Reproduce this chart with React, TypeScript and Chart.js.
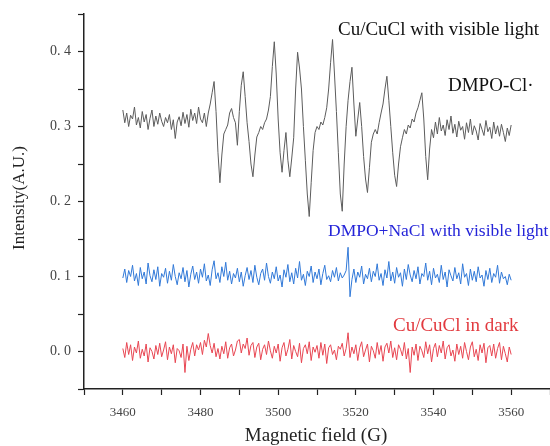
import { useEffect, useRef } from "react";
import { Chart, registerables } from "chart.js";

Chart.register(...registerables);

// Field sampling (G)
const fieldStart = 3460;
const fieldStep = 0.5;

// Cu/CuCl with visible light (DMPO-Cl· signal)
const grayIntensity = [
  0.322, 0.305, 0.318, 0.300, 0.315, 0.310, 0.326, 0.302, 0.312, 0.298,
  0.320, 0.306, 0.316, 0.296, 0.311, 0.322, 0.300, 0.314, 0.303, 0.318,
  0.307, 0.300, 0.312, 0.305, 0.316, 0.296, 0.309, 0.284, 0.306, 0.313,
  0.301, 0.319, 0.304, 0.316, 0.299, 0.323, 0.308, 0.318, 0.304, 0.326,
  0.310, 0.305, 0.318,
  0.300, 0.318, 0.330, 0.345, 0.360, 0.320, 0.265, 0.225, 0.262, 0.290,
  0.296, 0.302, 0.318, 0.324, 0.312, 0.305, 0.275, 0.320, 0.355, 0.373,
  0.340, 0.305, 0.280, 0.250, 0.233, 0.262, 0.286, 0.292, 0.300, 0.296,
  0.305, 0.310, 0.322, 0.340, 0.380, 0.413, 0.370, 0.310, 0.265, 0.239,
  0.268, 0.292, 0.255, 0.233, 0.258, 0.285, 0.350, 0.399, 0.378, 0.350,
  0.300, 0.255, 0.210, 0.180, 0.225, 0.268, 0.292, 0.300, 0.296, 0.306,
  0.302, 0.312, 0.325, 0.350, 0.385, 0.416, 0.370, 0.320, 0.265, 0.210,
  0.187, 0.250, 0.300, 0.335, 0.360, 0.379, 0.330, 0.287, 0.310, 0.332,
  0.300, 0.260, 0.230, 0.212, 0.245, 0.279, 0.290, 0.296, 0.290, 0.305,
  0.318, 0.330, 0.350, 0.367, 0.335, 0.300, 0.265, 0.235, 0.220, 0.250,
  0.273, 0.285, 0.296, 0.290, 0.302, 0.298, 0.310, 0.306, 0.318, 0.325,
  0.335, 0.345, 0.310, 0.260, 0.229, 0.270, 0.296,
  0.285, 0.306, 0.290, 0.312, 0.294, 0.302, 0.288, 0.309, 0.296, 0.314,
  0.291, 0.303, 0.286, 0.307, 0.295, 0.300, 0.283, 0.305, 0.292, 0.310,
  0.289, 0.301, 0.294, 0.282, 0.304, 0.296, 0.288, 0.308, 0.293, 0.299,
  0.284, 0.306, 0.290, 0.301, 0.287, 0.303, 0.292, 0.280, 0.298, 0.288,
  0.302,
];

// DMPO+NaCl with visible light
const blueIntensity = [
  0.098, 0.110, 0.092, 0.108, 0.100, 0.115, 0.094, 0.104, 0.088, 0.112,
  0.097, 0.106, 0.090, 0.118, 0.101, 0.093, 0.109, 0.096, 0.113, 0.087,
  0.104, 0.099, 0.111, 0.091, 0.107, 0.095, 0.116, 0.100, 0.089, 0.105,
  0.097, 0.112, 0.093, 0.108, 0.086, 0.103, 0.114, 0.096, 0.106, 0.091,
  0.110, 0.099, 0.117, 0.094, 0.102, 0.088, 0.109, 0.121, 0.097, 0.105,
  0.092, 0.113, 0.100, 0.119, 0.095, 0.107, 0.090, 0.104, 0.098, 0.111,
  0.093, 0.106, 0.087, 0.101, 0.112, 0.096, 0.108, 0.092, 0.115, 0.099,
  0.089, 0.104, 0.110, 0.095, 0.118, 0.100, 0.091, 0.106, 0.097, 0.113,
  0.094, 0.102, 0.086, 0.109, 0.099, 0.116, 0.093, 0.105, 0.090, 0.111,
  0.098, 0.120, 0.095, 0.103, 0.088, 0.107, 0.100, 0.114, 0.092, 0.106,
  0.097, 0.110, 0.089, 0.104, 0.115, 0.096, 0.101, 0.093, 0.108, 0.099,
  0.112, 0.094, 0.105, 0.098, 0.102, 0.108, 0.139, 0.073, 0.096, 0.110,
  0.092, 0.106, 0.099, 0.114, 0.090, 0.103, 0.097, 0.111, 0.093, 0.107,
  0.100, 0.117, 0.095, 0.104, 0.088, 0.109, 0.098, 0.120, 0.094, 0.106,
  0.091, 0.112, 0.099, 0.105, 0.087, 0.110, 0.096, 0.116, 0.102, 0.093,
  0.108, 0.097, 0.113, 0.090, 0.104, 0.100, 0.118, 0.095, 0.107, 0.089,
  0.111, 0.098, 0.103, 0.092, 0.115, 0.096, 0.106, 0.086, 0.109, 0.101,
  0.094, 0.112, 0.097, 0.105, 0.090, 0.117, 0.099, 0.104, 0.088, 0.110,
  0.095, 0.107, 0.093, 0.113, 0.098, 0.102, 0.087, 0.108, 0.096, 0.111,
  0.092, 0.104, 0.099, 0.115, 0.091, 0.106, 0.097, 0.100, 0.089, 0.103,
  0.095,
];

// Cu/CuCl in dark
const redIntensity = [
  0.004, -0.008, 0.012, -0.004, 0.009, -0.012, 0.006, -0.002, 0.014, -0.009,
  0.003, -0.006, 0.010, -0.014, 0.005, 0.000, -0.010, 0.008, -0.004, 0.011,
  -0.007, 0.002, 0.013, -0.011, 0.006, -0.003, 0.009, -0.015, 0.004, 0.001,
  -0.008, 0.010, -0.028, 0.007, -0.012, 0.003, 0.012, -0.006, 0.009, 0.002,
  0.012, -0.004, 0.015, 0.006, 0.024, 0.008, -0.002, 0.011, -0.007, 0.004,
  -0.010, 0.007, -0.003, 0.013, -0.009, 0.005, 0.010, -0.006, 0.002, 0.014,
  0.016, -0.002, 0.010, 0.004, 0.018, -0.005, 0.008, 0.012, -0.008, 0.006,
  0.011, -0.011, 0.003, 0.009, -0.004, 0.014, 0.001, -0.009, 0.007, -0.002,
  0.010, -0.013, 0.005, 0.012, -0.006, 0.003, 0.016, -0.010, 0.008, 0.000,
  -0.007, 0.011, -0.015, 0.004, 0.009, -0.003, 0.013, -0.012, 0.006, -0.001,
  0.008, -0.009, 0.012, -0.005, 0.010, -0.016, 0.005, 0.009, -0.004, 0.002,
  -0.011, 0.007, 0.003, 0.011, -0.006, 0.004, 0.025, -0.008, 0.006, -0.003,
  0.009, -0.012, 0.005, 0.013, -0.007, 0.002, 0.010, -0.014, 0.007, 0.001,
  -0.009, 0.012, -0.004, 0.008, -0.013, 0.006, 0.011, -0.002, 0.014, -0.008,
  0.005, -0.011, 0.009, 0.003, -0.006, 0.012, -0.010, 0.004, -0.028, 0.006,
  -0.005, 0.010, -0.012, 0.007, 0.001, -0.008, 0.013, -0.003, 0.009, -0.014,
  0.004, 0.011, -0.007, 0.008, -0.002, 0.014, -0.010, 0.005, 0.009, -0.006,
  0.002, -0.013, 0.010, -0.004, 0.007, -0.009, 0.012, 0.000, -0.011, 0.006,
  0.013, -0.007, 0.003, -0.012, 0.009, -0.002, 0.011, -0.015, 0.005, 0.008,
  -0.006, 0.010, -0.009, 0.004, 0.012, -0.011, 0.007, -0.003, -0.014, 0.006,
  -0.004,
];

const xTickLabels = [3460, 3480, 3500, 3520, 3540, 3560];
const yTickValues = [0.0, 0.1, 0.2, 0.3, 0.4];
const yTickLabels = ["0. 0", "0. 1", "0. 2", "0. 3", "0. 4"];

const seriesNames = [
  "Cu/CuCl with visible light",
  "DMPO+NaCl with visible light",
  "Cu/CuCl in dark",
];
const speciesName = "DMPO-Cl\u00b7";
const xTitle = "Magnetic field (G)";
const yTitle = "Intensity(A.U.)";

const toPoints = (ys: number[]) =>
  ys.map((y, i) => ({ x: fieldStart + i * fieldStep, y }));

const SERIF = "'Liberation Serif', 'Times New Roman', serif";

const textPlugin = {
  id: "textPlugin",
  afterDraw(chart: any) {
    const ctx = chart.ctx as CanvasRenderingContext2D;
    ctx.save();
    ctx.textBaseline = "alphabetic";
    ctx.textAlign = "left";
    ctx.font = `19px ${SERIF}`;
    ctx.fillStyle = "#111111";
    ctx.fillText(seriesNames[0], 338, 35);
    ctx.fillText(speciesName, 448, 91);
    ctx.fillStyle = "#2424d8";
    ctx.font = `17.5px ${SERIF}`;
    ctx.fillText(seriesNames[1], 328, 236);
    ctx.fillStyle = "#e23a3f";
    ctx.font = `19px ${SERIF}`;
    ctx.fillText(seriesNames[2], 393, 331);

    // axis titles
    ctx.fillStyle = "#222222";
    ctx.textAlign = "center";
    ctx.textBaseline = "middle";
    ctx.font = `19px ${SERIF}`;
    ctx.fillText(xTitle, 316, 436);
    ctx.save();
    ctx.translate(20, 198);
    ctx.rotate(-Math.PI / 2);
    ctx.font = `17px ${SERIF}`;
    ctx.fillText(yTitle, 0, 0);
    ctx.restore();
    ctx.restore();
  },
};

export default function App() {
  const canvasRef = useRef<HTMLCanvasElement | null>(null);

  useEffect(() => {
    if (!canvasRef.current) return;
    const chart = new Chart(canvasRef.current, {
      type: "line",
      data: {
        datasets: [
          {
            label: seriesNames[0],
            data: toPoints(grayIntensity),
            borderColor: "#5c5c5c",
            borderWidth: 1,
            pointRadius: 0,
            pointHoverRadius: 0,
            tension: 0,
          },
          {
            label: seriesNames[1],
            data: toPoints(blueIntensity),
            borderColor: "#3179d8",
            borderWidth: 1,
            pointRadius: 0,
            pointHoverRadius: 0,
            tension: 0,
          },
          {
            label: seriesNames[2],
            data: toPoints(redIntensity),
            borderColor: "#e84652",
            borderWidth: 1,
            pointRadius: 0,
            pointHoverRadius: 0,
            tension: 0,
          },
        ],
      },
      options: {
        responsive: false,
        animation: false,
        devicePixelRatio: 1,
        layout: { autoPadding: false, padding: { top: 14, right: 0, left: 0, bottom: 0 } },
        plugins: {
          legend: { display: false },
          tooltip: { enabled: false },
        },
        scales: {
          x: {
            type: "linear",
            min: 3450,
            max: 3570,
            afterFit: (scale: any) => {
              scale.height = 57;
              scale.paddingLeft = 0;
              scale.paddingRight = 0;
            },
            ticks: {
              stepSize: 10,
              autoSkip: false,
              maxRotation: 0,
              padding: 10,
              color: "#444444",
              font: { family: SERIF, size: 13 },
              callback: (v: any) =>
                xTickLabels.includes(Number(v)) ? String(v) : "",
            },
            grid: {
              display: true,
              drawOnChartArea: false,
              drawTicks: true,
              tickLength: 6,
              tickColor: "#222222",
              tickWidth: 1.2,
            },
            border: { display: true, color: "#222222", width: 1.5 },
          },
          y: {
            type: "linear",
            min: -0.05,
            max: 0.45,
            afterFit: (scale: any) => {
              scale.width = 84;
              scale.paddingTop = 0;
              scale.paddingBottom = 0;
            },
            ticks: {
              stepSize: 0.05,
              autoSkip: false,
              padding: 7,
              color: "#444444",
              font: { family: SERIF, size: 14 },
              callback: (v: any) => {
                const idx = yTickValues.findIndex(
                  (t) => Math.abs(t - Number(v)) < 1e-6
                );
                return idx >= 0 ? yTickLabels[idx] : "";
              },
            },
            grid: {
              display: true,
              drawOnChartArea: false,
              drawTicks: true,
              tickLength: 6,
              tickColor: "#222222",
              tickWidth: 1.2,
            },
            border: { display: true, color: "#222222", width: 1.5 },
          },
        },
      },
      plugins: [textPlugin],
    });
    return () => chart.destroy();
  }, []);

  return (
    <div style={{ position: "absolute", left: 0, top: 0, width: 550, height: 446, background: "#ffffff" }}>
      <canvas ref={canvasRef} width={550} height={446} style={{ display: "block" }} />
    </div>
  );
}
